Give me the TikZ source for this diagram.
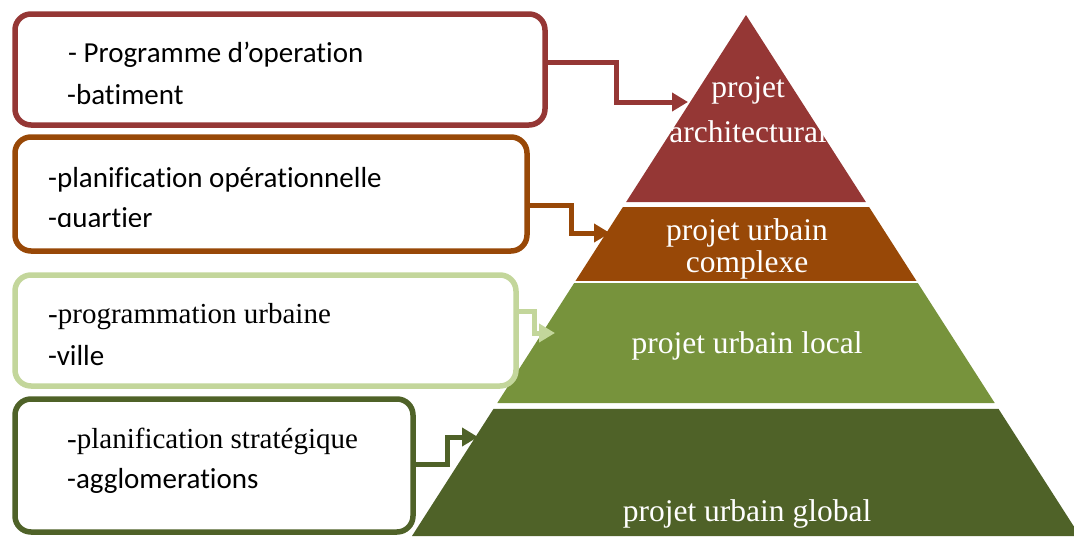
\documentclass[tikz,border=0pt]{standalone}
\usepackage{fontspec}
\setmainfont{Liberation Serif}
\newfontfamily\calibri[Ligatures=NoCommon]{Carlito}
\usetikzlibrary{arrows.meta,calc}

\definecolor{archred}{HTML}{953735}
\definecolor{cplxbrown}{HTML}{984807}
\definecolor{localgreen}{HTML}{77933C}
\definecolor{globalgreen}{HTML}{4F6228}
\definecolor{palegreen}{HTML}{C3D69B}

% one slice of the pyramid, between two heights
\newcommand{\tier}[3]{%
  \fill[#3] ($(apex)!{(#1-15)/521}!(bl)$) -- ($(apex)!{(#1-15)/521}!(br)$)
    -- ($(apex)!{(#2-15)/521}!(br)$) -- ($(apex)!{(#2-15)/521}!(bl)$) -- cycle;}

\begin{document}
\begin{tikzpicture}[x=1pt, y=-1pt,
    box/.style={draw, line width=5.5pt, rounded corners=16pt, fill=white},
    sans/.style={anchor=base west, inner sep=0pt, font=\calibri\fontsize{29}{34}\selectfont},
    serif/.style={anchor=base west, inner sep=0pt, font=\fontsize{29}{34}\selectfont},
    tiertext/.style={anchor=base, inner sep=0pt, text=white, font=\fontsize{31.5}{36}\selectfont},
    link/.style={line width=5pt, -{Triangle[length=16pt,width=18pt]}}]
  \useasboundingbox (0,0) rectangle (1074,536);

  % pyramid
  \coordinate (apex) at (746,15);
  \coordinate (bl) at (412,536);
  \coordinate (br) at (1080,536);
  \tier{15}{202}{archred}
  \tier{207}{281}{cplxbrown}
  \tier{283}{403}{localgreen}
  \tier{409}{536}{globalgreen}

  \node[tiertext] (arch1) at (748,97) {projet};
  \node[tiertext] (arch2) at (748,142) {architectural};
  \node[tiertext] (cplx1) at (747,240) {projet urbain};
  \node[tiertext] (cplx2) at (747,272) {complexe};
  \node[tiertext] (local) at (747,353) {projet urbain local};
  \node[tiertext] (global) at (747,521) {projet urbain global};

  % boxes on the left
  \node[box, draw=archred, minimum width=530pt, minimum height=111pt] (box1) at (280,69.5) {};
  \node[box, draw=cplxbrown, minimum width=512pt, minimum height=114pt] (box2) at (271,194) {};
  \node[box, draw=palegreen, minimum width=501pt, minimum height=111pt] (box3) at (265.5,330.5) {};
  \node[box, draw=globalgreen, minimum width=398pt, minimum height=133pt] (box4) at (214,465.5) {};

  \node[sans] (prog) at (68,62) {- Programme d’operation};
  \node[sans] (bat) at (67,104) {-batiment};
  \node[sans] (planop) at (48,187) {-planification opérationnelle};
  \begin{scope}
    \clip (0,0) rectangle (1074,226);
    \node[sans] (quart) at (48,227) {-quartier};
  \end{scope}
  \node[serif] (progurb) at (48,323) {-programmation urbaine};
  \node[sans] (ville) at (48,365) {-ville};
  \node[serif] (planstr) at (67,448) {-planification stratégique};
  \node[sans] (agglo) at (67,488) {-agglomerations};

  % connectors
  \coordinate (t1) at (688,102);
  \coordinate (t2) at (610,233);
  \coordinate (t3) at (555,333);
  \coordinate (t4) at (478,437);
  \draw[link, archred] (box1.east |- 0,62) -- ++(69,0) |- (t1);
  \draw[link, cplxbrown] (box2.east |- 0,205) -- ++(42,0) |- (t2);
  \draw[link, palegreen] (box3.east |- 0,311) -- ++(16,0) |- (t3);
  \draw[link, globalgreen] (box4.east |- 0,464) -- ++(32,0) |- (t4);
\end{tikzpicture}
\end{document}
